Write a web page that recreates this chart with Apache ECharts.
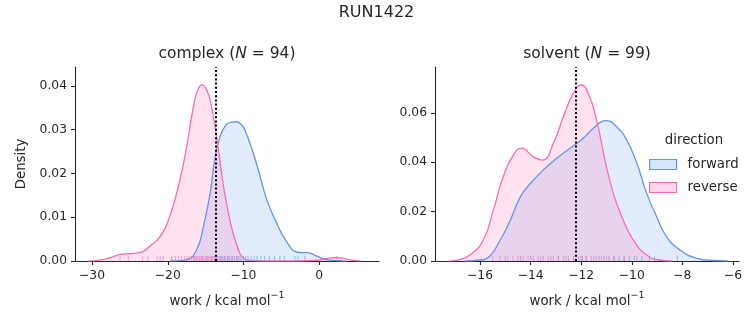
<!DOCTYPE html>
<html>
<head>
<meta charset="utf-8">
<script src="https://cdn.jsdelivr.net/npm/echarts@6/dist/echarts.min.js"></script>
<style>
html,body{margin:0;padding:0;background:#fff;}
#c{width:753px;height:325px;}
</style>
</head>
<body>
<div id="c"></div>
<script>
// ---- data ----
const suptitle = 'RUN1422';
const directions = ['forward', 'reverse'];

// complex panel KDE curves
const complexForwardX = [-19.7, -18.4, -17.5, -16.2, -15.3, -14.4, -13.8, -13.1, -12.3, -11.6, -10.9, -10.2, -9.8, -8.7, -7.8, -6.9, -5.6, -4.3, -2.9, -2.2, -1.6, -0.3, 1.0, 2.3, 3.5];
const complexForwardY = [0, 0.0001, 0.0003, 0.0025, 0.0078, 0.0155, 0.0231, 0.0284, 0.0311, 0.0317, 0.0318, 0.0310, 0.0299, 0.0246, 0.0193, 0.0139, 0.0086, 0.0044, 0.0020, 0.0019, 0.0019, 0.0011, 0.0003, 0.0001, 0];
const complexReverseX = [-30.5, -29, -27.5, -26.3, -25, -23.7, -22.3, -21.0, -19.7, -18.4, -17.5, -16.6, -16.0, -15.45, -14.9, -14.4, -13.55, -12.7, -11.8, -10.9, -10.0, -9, -7, -5, -3, -1, 0.5, 1.5, 2.3, 3.2, 4.2, 5.5];
const complexReverseY = [0, 0.0002, 0.0008, 0.0015, 0.0017, 0.0019, 0.0035, 0.0056, 0.0104, 0.0185, 0.0261, 0.0353, 0.0392, 0.0402, 0.0392, 0.0368, 0.0284, 0.0178, 0.0094, 0.0037, 0.0006, 0.0001, 0, 0, 0, 0.0001, 0.0004, 0.0007, 0.0008, 0.0006, 0.0002, 0];

// solvent panel KDE curves
const solventForwardX = [-16.6, -16.0, -15.7, -15.2, -14.8, -14.4, -14.0, -13.5, -12.97, -12.44, -11.92, -11.52, -11.02, -10.6, -10.2, -9.8, -9.41, -9.02, -8.62, -8.1, -7.43, -6.8, -6.2];
const solventForwardY = [0, 0.0004, 0.0012, 0.0085, 0.0166, 0.0261, 0.0315, 0.0369, 0.0416, 0.0457, 0.0497, 0.0538, 0.0569, 0.0544, 0.0490, 0.0396, 0.0274, 0.0180, 0.0098, 0.0045, 0.0011, 0.0002, 0];
const solventReverseX = [-17.2, -16.8, -16.4, -15.87, -15.47, -15.08, -14.68, -14.35, -13.9, -13.52, -13.1, -12.7, -12.31, -12.0, -11.72, -11.39, -11.06, -10.73, -10.34, -9.94, -9.41, -8.9, -8.4];
const solventReverseY = [0, 0.0006, 0.0024, 0.0085, 0.0207, 0.0342, 0.0430, 0.0457, 0.0423, 0.0409, 0.0477, 0.0585, 0.0680, 0.0713, 0.0680, 0.0571, 0.0409, 0.0274, 0.0166, 0.0085, 0.0024, 0.0004, 0];

// rug positions (estimated)
const complexForwardRug = [-16.5, -15.5, -14.8, -14.2, -13.8, -13.4, -13.0, -12.7, -12.4, -12.1, -11.8, -11.5, -11.2, -10.9, -10.6, -10.3, -10.0, -9.7, -9.4, -9.0, -8.6, -8.2, -7.7, -7.2, -6.6, -5.9, -5.2, -4.6, -3.2, -2.8, -1.9];
const complexReverseRug = [-26.3, -25.2, -23.3, -22.6, -21.4, -21.0, -20.6, -19.5, -19.0, -18.6, -18.2, -17.8, -17.5, -17.2, -16.9, -16.6, -16.4, -16.2, -16.0, -15.8, -15.6, -15.4, -15.2, -15.0, -14.8, -14.6, -14.4, -14.2, -14.0, -13.8, -13.5, -13.2, -12.9, -12.5, -12.0, -11.5, -10.8, 2.3];
const solventForwardRug = [-15.0, -14.4, -14.0, -13.6, -13.2, -12.9, -12.6, -12.3, -12.0, -11.8, -11.5, -11.3, -11.1, -10.9, -10.7, -10.5, -10.3, -10.1, -9.9, -9.6, -9.3, -9.1, -8.2];
const solventReverseRug = [-15.5, -15.2, -14.9, -14.7, -14.5, -14.3, -14.1, -13.9, -13.7, -13.5, -13.3, -13.1, -12.9, -12.7, -12.5, -12.3, -12.1, -11.95, -11.8, -11.6, -11.4, -11.2, -11.0, -10.7, -10.3, -9.8];

// dotted reference lines
const complexRefLine = -13.62;
const solventRefLine = -12.2;

// axis ticks
const complexXTicks = [-30, -20, -10, 0];
const solventXTicks = [-16, -14, -12, -10, -8, -6];
const complexYTicks = [0, 0.01, 0.02, 0.03, 0.04];
const solventYTicks = [0, 0.02, 0.04, 0.06];

// ---- chart ----
const TXT = '#262626';
const FONT = 'DejaVu Sans';
const BLUE = '#6495ED', PINK = '#FF69B4';
const BLUE_FILL = 'rgba(100,149,237,0.26)', PINK_FILL = 'rgba(255,105,180,0.27)';

const zip = (xs, ys) => xs.map((x, i) => [x, ys[i]]);
const rug = xs => xs.map(x => [x, 0]);
const minus = v => (v < 0 ? '\u2212' + Math.abs(v) : String(v));

function xAxis(idx, min, max, ticks) {
  return {
    type: 'value', gridIndex: idx, min: min, max: max,
    name: '{a|work / kcal mol}{s|\u22121}', nameLocation: 'middle', nameGap: 30,
    nameTextStyle: {
      rich: {
        a: {fontFamily: FONT, fontSize: 13.3, color: TXT, lineHeight: 17, verticalAlign: 'bottom'},
        s: {fontFamily: FONT, fontSize: 9.5, color: TXT, lineHeight: 17, verticalAlign: 'top'}
      }
    },
    axisLine: {show: true, onZero: false, lineStyle: {color: TXT, width: 1.1}},
    axisTick: {show: true, length: 4, lineStyle: {color: TXT, width: 1.1}, customValues: ticks},
    axisLabel: {fontFamily: FONT, fontSize: 12.3, color: TXT, margin: 9, customValues: ticks, formatter: minus},
    splitLine: {show: false}
  };
}
function yAxis(idx, max, ticks, name) {
  return {
    type: 'value', gridIndex: idx, min: 0, max: max,
    name: name, nameLocation: 'middle', nameGap: 47,
    nameTextStyle: {fontFamily: FONT, fontSize: 13.3, color: TXT},
    axisLine: {show: true, onZero: false, lineStyle: {color: TXT, width: 1.1}},
    axisTick: {show: true, length: 4, lineStyle: {color: TXT, width: 1.1}, customValues: ticks},
    axisLabel: {fontFamily: FONT, fontSize: 12.3, color: TXT, margin: 8, customValues: ticks, formatter: v => v.toFixed(2)},
    splitLine: {show: false}
  };
}
function kde(name, idx, data, color, fill, refLine) {
  const s = {
    name: name, type: 'line', xAxisIndex: idx, yAxisIndex: idx,
    data: data, smooth: 0.5, showSymbol: false, symbol: 'none',
    lineStyle: {color: color, width: 1.3}, itemStyle: {color: color},
    areaStyle: {color: fill, origin: 'start'}, silent: true, animation: false
  };
  if (refLine !== undefined) {
    s.markLine = {
      silent: true, symbol: ['none', 'none'], label: {show: false},
      lineStyle: {color: '#000', type: [2, 2.2], width: 2},
      data: [{xAxis: refLine}]
    };
  }
  return s;
}
function rugSeries(name, idx, data, color) {
  return {
    name: name, type: 'scatter', xAxisIndex: idx, yAxisIndex: idx,
    data: data, symbol: 'rect', symbolSize: [1.1, 5], symbolOffset: [0, -2.5],
    itemStyle: {color: color, opacity: 0.55}, silent: true, animation: false, z: 3
  };
}
const titleRich = {
  a: {fontFamily: FONT, fontSize: 15.5, fontWeight: 'normal', color: TXT},
  i: {fontFamily: FONT, fontSize: 15.5, fontWeight: 'normal', fontStyle: 'italic', color: TXT}
};

const chart = echarts.init(document.getElementById('c'), null, {renderer: 'canvas'});
chart.setOption({
  backgroundColor: '#fff',
  animation: false,
  title: [
    {text: suptitle, left: 376.5, textAlign: 'center', top: 5, padding: 0,
     textStyle: {fontFamily: FONT, fontSize: 16, fontWeight: 'normal', color: TXT}},
    {text: '{a|complex (}{i|N}{a| = 94)}', left: 227, textAlign: 'center', top: 46, padding: 0,
     textStyle: {fontWeight: 'normal', rich: titleRich}},
    {text: '{a|solvent (}{i|N}{a| = 99)}', left: 587, textAlign: 'center', top: 46, padding: 0,
     textStyle: {fontWeight: 'normal', rich: titleRich}},
    {text: 'direction', left: 694, textAlign: 'center', top: 134, padding: 0,
     textStyle: {fontFamily: FONT, fontSize: 13.3, fontWeight: 'normal', color: TXT}}
  ],
  legend: {
    orient: 'vertical', left: 649, top: 158, padding: 0,
    itemWidth: 27, itemHeight: 10, itemGap: 10,
    textStyle: {fontFamily: FONT, fontSize: 13.3, color: TXT, lineHeight: 10, padding: [0, 0, 0, 6]},
    selectedMode: false,
    data: [
      {name: directions[0], icon: 'rect', itemStyle: {color: BLUE_FILL, borderColor: BLUE, borderWidth: 1.2}},
      {name: directions[1], icon: 'rect', itemStyle: {color: PINK_FILL, borderColor: PINK, borderWidth: 1.2}}
    ]
  },
  grid: [
    {left: 75, top: 67, width: 304, height: 194},
    {left: 435, top: 67, width: 304, height: 194}
  ],
  xAxis: [
    xAxis(0, -32.25, 7.9, complexXTicks),
    xAxis(1, -17.78, -5.76, solventXTicks)
  ],
  yAxis: [
    yAxis(0, 0.0443, complexYTicks, 'Density'),
    yAxis(1, 0.0786, solventYTicks, '')
  ],
  series: [
    kde(directions[0], 0, zip(complexForwardX, complexForwardY), BLUE, BLUE_FILL),
    kde(directions[1], 0, zip(complexReverseX, complexReverseY), PINK, PINK_FILL, complexRefLine),
    kde(directions[0], 1, zip(solventForwardX, solventForwardY), BLUE, BLUE_FILL),
    kde(directions[1], 1, zip(solventReverseX, solventReverseY), PINK, PINK_FILL, solventRefLine),
    rugSeries(directions[0], 0, rug(complexForwardRug), BLUE),
    rugSeries(directions[1], 0, rug(complexReverseRug), PINK),
    rugSeries(directions[0], 1, rug(solventForwardRug), BLUE),
    rugSeries(directions[1], 1, rug(solventReverseRug), PINK)
  ]
});
</script>
</body>
</html>
